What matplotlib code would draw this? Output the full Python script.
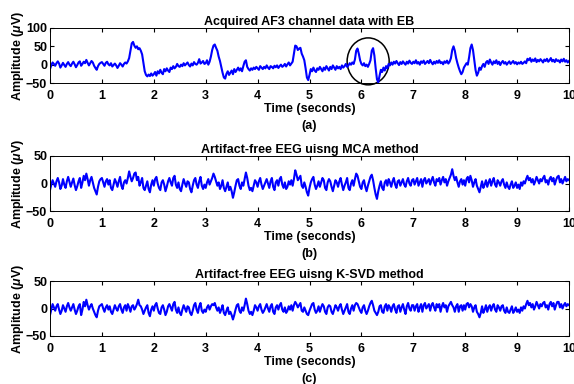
import numpy as np
import matplotlib
matplotlib.use("Agg")
import matplotlib.pyplot as plt
from matplotlib.patches import Ellipse

plt.rcParams['font.family'] = ['Liberation Sans', 'DejaVu Sans']
plt.rcParams['font.weight'] = 'bold'
plt.rcParams['mathtext.fontset'] = 'custom'
plt.rcParams['mathtext.it'] = 'Liberation Sans:italic:bold'
plt.rcParams['mathtext.rm'] = 'Liberation Sans:bold'

# muestras cada 0.025 s (una fila = 1 segundo), de 0 a 10 s

# senal original AF3 con parpadeos (EB)
eeg_eb = [
    -12, -2, 6, 2, -3, 4, 9, 3, -8, -2, 5, -1, -6, 2, 7, 0, -4, 3, 8, 1, -7, -1, 6, 9, -3, 2, 8, 4, 13, 5, -2, 4, 10, 6, -3, -9, -14, -4, 2, 5,
    7, 2, -3, 5, 8, 1, -2, 4, -5, -1, 3, -2, -9, -3, 4, 0, -5, 2, 6, 3, 9, 18, 38, 58, 62, 52, 46, 50, 42, 45, 38, 28, 5, -18, -28, -32, -27, -31, -24, -30,
    -26, -20, -30, -18, -24, -14, -22, -26, -12, -18, -10, -16, -20, -8, -12, -4, -10, -6, 2, -4, -6, 0, -4, 4, -2, 2, 6, -1, -5, 3, -2, 7, 2, 0, 5, 15, 3, 6, 10, 2,
    4, 12, 0, 8, 22, 40, 52, 55, 46, 38, 22, 10, -6, -22, -35, -38, -25, -18, -28, -22, -16, -26, -12, -20, -14, -8, -16, -10, -18, -4, 8, 12, -6, -12, -16, -10, -14, -8, -12, -6,
    -10, -14, -4, -8, -12, -6, -10, -2, -8, -12, -4, -6, -10, -3, -7, -2, -9, -4, 0, -6, -3, 2, -5, 1, 6, -2, 3, 8, 30, 52, 50, 40, 44, 46, 30, 22, 12, -10, -35, -42,
    -28, -12, -18, -8, -16, -20, -10, -14, -6, -12, -18, -8, -14, -4, -10, -16, -6, -12, -2, -8, -14, -4, -10, -6, -12, -2, -8, -4, 2, -6, -2, 4, 0, 6, 2, 14, 38, 44, 30, 12,
    2, -2, 4, -4, 0, -6, 2, 12, 38, 45, 25, -10, -40, -48, -30, -14, -20, -8, -16, -4, -10, 2, -2, 6, 0, 8, 3, 10, 4, -1, 7, 2, 9, 4, 0, 8, 3, 11, 5, 2,
    8, 4, 12, 3, 7, 0, 9, 5, 11, 2, 6, 10, 4, 13, 6, 1, 8, 3, 10, 5, 12, 4, 7, 1, 9, 5, 11, 3, 8, 18, 40, 50, 38, 18, 4, -8, -18, -26, -20, -8,
    -2, 4, 0, 20, 45, 55, 40, 12, -15, -30, -22, -8, -14, -4, 2, -6, 6, 10, 2, 14, 6, 0, 9, 4, 12, 2, 8, -1, 6, 10, 3, 7, 0, 5, 9, 2, 6, 10, 3, 7,
    1, 6, 3, 8, 2, 5, 9, 4, 16, 12, 18, 8, 14, 10, 17, 7, 13, 9, 15, 11, 6, 14, 10, 16, 8, 12, 18, 9, 13, 7, 15, 10, 12, 6, 14, 9, 16, 8, 12, 6,
    10,
]

# EEG limpio con MCA
eeg_mca = [
    -12, -2, 6, 0, -6, 4, 10, 2, -10, -4, 8, -2, -8, 4, 12, 3, -6, 2, 9, -3, -12, -5, 4, 10, -8, 2, 14, 6, 18, 8, -4, 6, 12, 2, -8, -14, -20, -6, 4, 8,
    10, 2, -6, 4, 8, -2, 6, -8, -12, -2, 8, 2, -6, 4, 12, -4, -10, 2, 6, 0, 10, 22, 12, 4, 10, 18, 20, 6, 12, -4, 2, 10, -8, -12, -4, 4, -10, -16, -2, 6,
    -4, 8, 12, 0, -8, -12, 2, 6, -2, -14, -6, 4, 10, 2, -4, 10, 14, -2, -8, 2, -10, -14, -2, 8, 0, -6, 4, 2, -10, -16, -4, 6, 10, -2, -8, 4, 12, -4, -10, -2,
    -8, 2, 8, -2, 4, 10, 18, 12, 4, -4, 2, -10, -4, 6, -8, -14, -6, 2, -12, -6, -14, -26, -16, -4, 6, 8, -4, -10, 2, -4, 8, 20, 10, -4, -12, -8, -14, -4, 6, 2,
    -6, 4, 10, -2, -10, -4, 2, 8, 0, -8, 4, 10, -6, -12, 2, 6, -4, 8, 12, -2, -8, 2, -10, -6, 4, -2, 6, -4, 8, 24, 16, 6, 10, 14, -4, -8, 2, -6, -16, -22,
    -8, 2, 8, 12, -2, -10, -4, 4, -6, 2, 10, 6, -8, -12, 2, 8, 4, -6, -14, -4, 6, 2, -6, 4, 10, -2, -12, -4, 2, 10, -8, -12, 0, 6, -4, 8, 18, 14, 4, -6,
    -10, 2, 6, -6, -14, -4, 4, 12, 16, 6, -8, -20, -28, -14, -4, 4, -8, -12, 2, 6, -4, 8, 2, -6, 4, 10, -2, -8, 4, 6, -4, 2, 8, -2, -6, 4, 10, 0, -4, 6,
    8, -2, 4, 10, -4, 2, 8, -6, 6, 10, 0, 4, 8, -2, 6, 12, 2, -4, 8, 4, 10, -2, 6, 12, 2, 8, -4, 4, 10, 16, 26, 14, 6, 12, 2, -6, 4, 8, -2, 6,
    -4, 8, 12, 2, 14, 6, -6, 2, 8, -4, -10, -16, -6, 4, -8, -2, 6, -6, 2, 8, -4, 4, 10, -2, -6, 6, 2, -4, 4, 8, -2, -8, 2, -6, -10, -2, 4, -8, -4, 2,
    -8, -2, -10, 2, -4, 4, 0, 8, 14, 6, 10, 2, 8, -2, 4, 12, 6, 0, 8, 4, 10, 14, 2, 6, -2, 8, 12, 4, 10, -2, 6, 12, 14, 2, 8, 0, 6, 12, 4, 8,
    6,
]

# EEG limpio con K-SVD
eeg_ksvd = [
    -12, -2, 8, 2, -4, 4, 8, -2, -10, -4, 6, 0, -6, 4, 10, 2, -4, 2, 8, -2, -10, -4, 4, 8, -12, -2, 12, 4, 16, 6, -2, 4, 8, 0, -6, -12, -16, -4, 4, 6,
    8, 0, -6, 2, 6, -2, 4, -6, -10, -2, 6, 0, -4, 4, 8, -2, -8, 2, 6, -4, 8, 2, -6, 4, 6, -2, 2, 8, 16, 6, 4, -2, -10, -4, 2, 6, -8, -14, -2, 4,
    -4, 6, 10, 0, -8, -10, 2, 6, -2, -12, -6, 4, 8, 2, -4, 8, 12, -2, -8, 2, -8, -12, -2, 6, 0, -6, 4, 2, -8, -12, -4, 6, 10, -2, -8, 4, 10, -4, -8, -2,
    -6, 2, 6, -2, 4, 8, 6, 10, 2, -4, 2, -8, -2, 6, -8, -12, -4, 2, -10, -6, -12, -20, -12, -2, 6, 8, -4, -8, 2, -4, 6, 18, 8, -4, -10, -6, -12, -4, 6, 2,
    -4, 4, 8, -2, -8, -4, 2, 8, 0, -6, 4, 8, -6, -10, 2, 6, -2, 6, 10, -2, -6, 2, -8, -4, 4, -2, 6, -4, 6, 12, 8, 2, 6, 10, -4, -6, 2, -4, -10, -12,
    -4, 2, 8, 10, -2, -8, -4, 4, -6, 2, 8, 4, -6, -10, 2, 6, 4, -6, -10, -2, 6, 2, -4, 4, 8, -2, -10, -4, 2, 8, -6, -10, 0, 6, -4, 6, 10, 8, 2, -4,
    -8, 2, 6, -4, -10, -4, 4, 10, 14, 6, -4, -8, -12, -6, 4, 6, -6, -8, 4, 8, -4, 6, 2, -6, 4, 8, -2, -8, 4, 6, -6, 2, 8, -2, -10, 4, 10, 0, -4, 6,
    6, -4, 4, 8, -6, 2, 8, -6, 6, 10, 0, 4, 8, -4, 6, 10, 2, -4, 8, 2, 8, -6, 4, 10, 2, 6, -6, 4, 8, 12, 6, 2, -6, 4, 8, -6, 4, 6, -4, 6,
    -2, 8, 10, 2, 8, 4, -6, 2, 6, -6, -10, -16, -8, 4, -8, -2, 6, -6, 2, 6, -4, 4, 8, -2, -6, 6, 2, -4, 4, 6, -4, -8, 2, -6, -8, -2, 4, -8, -4, 2,
    -6, -2, -8, 2, -4, 4, 0, 8, 14, 6, 10, 2, 8, -2, 4, 12, 6, 0, 8, 4, 10, 12, 2, 6, -2, 8, 12, 4, 10, -2, 6, 12, 12, 2, 8, 0, 6, 10, 4, 8,
    6,
]

titulos = ["Acquired AF3 channel data with EB",
           "Artifact-free EEG uisng MCA method",
           "Artifact-free EEG uisng K-SVD method"]
letras = ["(a)", "(b)", "(c)"]
senales = [eeg_eb, eeg_mca, eeg_ksvd]
limites_y = [(-50, 100), (-50, 50), (-50, 50)]
ticks_y = [[-50, 0, 50, 100], [-50, 0, 50], [-50, 0, 50]]

fs = 9
fig = plt.figure(figsize=(5.74, 3.84), dpi=100)
W, H = 574, 384
tops = [28, 156, 281]
for i in range(3):
    ax = fig.add_axes([50 / W, (H - tops[i] - 55) / H, 519 / W, 55 / H])
    t = np.linspace(0, 10, len(senales[i]))
    ax.plot(t, senales[i], color='#0000ff', lw=1.5)
    ax.set_xlim(0, 10)
    ax.set_ylim(*limites_y[i])
    ax.set_xticks(range(11))
    ax.set_yticks(ticks_y[i])
    ax.tick_params(direction='in', top=True, right=True, length=3,
                   labelsize=fs, pad=2)
    ax.tick_params(axis='x', pad=4.8)
    for s in ax.spines.values():
        s.set_linewidth(0.7)
    ax.set_title(titulos[i], fontsize=fs, fontweight='bold', pad=2)
    ax.set_xlabel("Time (seconds)", fontsize=fs, fontweight='bold', labelpad=0.8)
    ax.set_ylabel(r"Amplitude ($\mu$V)", fontsize=fs, fontweight='bold', labelpad=0)
    ax.annotate(letras[i], xy=(0.5, 0), xycoords='axes fraction',
                xytext=(0, -26.5), textcoords='offset points',
                ha='center', va='top', fontsize=fs, fontweight='bold')
    if i == 0:
        ax.add_patch(Ellipse((6.13, 9), 0.81, 128, fill=False,
                             edgecolor='black', lw=1.1, clip_on=False))

fig.savefig("out.png", dpi=100)
